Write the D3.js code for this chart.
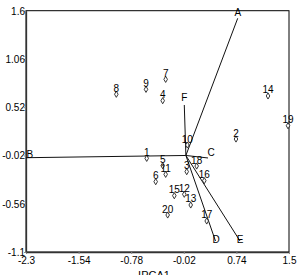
<!DOCTYPE html>
<html><head><meta charset="utf-8">
<script src="https://cdn.jsdelivr.net/npm/d3@7"></script>
<style>body{margin:0;background:#fff}svg{display:block}text{font-family:"Liberation Sans",Arial,sans-serif}</style>
</head><body><svg id="c" width="299" height="275"></svg>
<script>
const xTicks = [-2.3, -1.54, -0.78, -0.02, 0.74, 1.5];
const yTicks = [1.6, 1.06, 0.52, -0.02, -0.56, -1.1];
const genotypes = ["1","2","3","4","5","6","7","8","9","10","11","12","13","14","15","16","17","18","19","20"];
const pc1 = [-0.556, 0.734, 0.022, -0.325, -0.325, -0.426, -0.282, -0.995, -0.566, 0.031, -0.282, -0.013, 0.08, 1.197, -0.157, 0.276, 0.311, 0.166, 1.486, -0.253];
const pc2 = [-0.052, 0.164, -0.201, 0.593, -0.134, -0.313, 0.832, 0.665, 0.72, 0.097, -0.231, -0.454, -0.574, 0.646, -0.47, -0.302, -0.753, -0.138, 0.313, -0.686];
const envNames = ["A","B","C","D","E","F"];
const envPc1 = [0.759, -2.3, 0.33, 0.438, 0.792, -0.013];
const envPc2 = [1.515, -0.045, -0.048, -0.977, -0.977, 0.545];
const origin = [0.01, -0.02];
const xTitle = "IPCA1";

const svg = d3.select("#c");
const L = 26, R = 289, T = 10.7, B = 252;
const x = d3.scaleLinear().domain([-2.3, 1.5]).range([L, R]);
const y = d3.scaleLinear().domain([-1.1, 1.6]).range([B, T]);

// frame
svg.append("rect").attr("x", L).attr("y", T).attr("width", R - L).attr("height", B - T)
  .attr("fill", "none").attr("stroke", "#000").attr("stroke-width", 1);

const fmt = d => String(d);
const xAxis = svg.append("g").attr("transform", `translate(0,${B})`)
  .call(d3.axisBottom(x).tickValues(xTicks).tickFormat(fmt).tickSize(2).tickSizeOuter(0));
const yAxis = svg.append("g").attr("transform", `translate(${L},0)`)
  .call(d3.axisLeft(y).tickValues(yTicks).tickFormat(fmt).tickSize(2).tickSizeOuter(0));
[xAxis, yAxis].forEach(g => {
  g.select(".domain").attr("stroke", "#333").attr("stroke-width", 1.3);
  g.selectAll(".tick line").attr("stroke", "#888");
  g.selectAll("text").attr("font-size", 10).attr("fill", "#000")
   .attr("font-family", "'Liberation Sans',Arial,sans-serif");
});
xAxis.selectAll("text").attr("dy", "0.85em").attr("y", 3);
yAxis.selectAll("text").attr("x", -1).attr("dy", "0.35em");

svg.append("text").attr("x", 154).attr("y", 279).attr("text-anchor", "middle")
  .attr("font-size", 11).text(xTitle);

// environment vectors
const envData = envNames.map((n, i) => ({n, a: envPc1[i], b: envPc2[i]}));
svg.append("g").selectAll("line").data(envData).join("line")
  .attr("x1", x(origin[0])).attr("y1", y(origin[1]))
  .attr("x2", d => x(d.a)).attr("y2", d => y(d.b))
  .attr("stroke", "#111").attr("stroke-width", 1);
const envLab = {A:[0,-2,"middle"], B:[0.5,0,"start"], C:[-0.5,-1.5,"start"], D:[0.5,1.5,"middle"], E:[0,1.5,"middle"], F:[0,-4,"middle"]};
svg.append("g").selectAll("text").data(envData).join("text")
  .attr("x", d => x(d.a) + envLab[d.n][0]).attr("y", d => y(d.b) + envLab[d.n][1])
  .attr("text-anchor", d => envLab[d.n][2]).attr("font-size", 10).text(d => d.n);

// genotype points
const gData = genotypes.map((g, i) => ({g, a: pc1[i], b: pc2[i]}));
const sym = d3.symbol().type(d3.symbolDiamond).size(11);
svg.append("g").selectAll("path").data(gData).join("path")
  .attr("transform", d => `translate(${x(d.a)},${y(d.b)})`).attr("d", sym)
  .attr("fill", "#fff").attr("stroke", "#222").attr("stroke-width", 0.9);
svg.append("g").selectAll("text").data(gData).join("text")
  .attr("x", d => x(d.a)).attr("y", d => y(d.b) - 2.5)
  .attr("text-anchor", "middle").attr("font-size", 10).text(d => d.g);
</script></body></html>
